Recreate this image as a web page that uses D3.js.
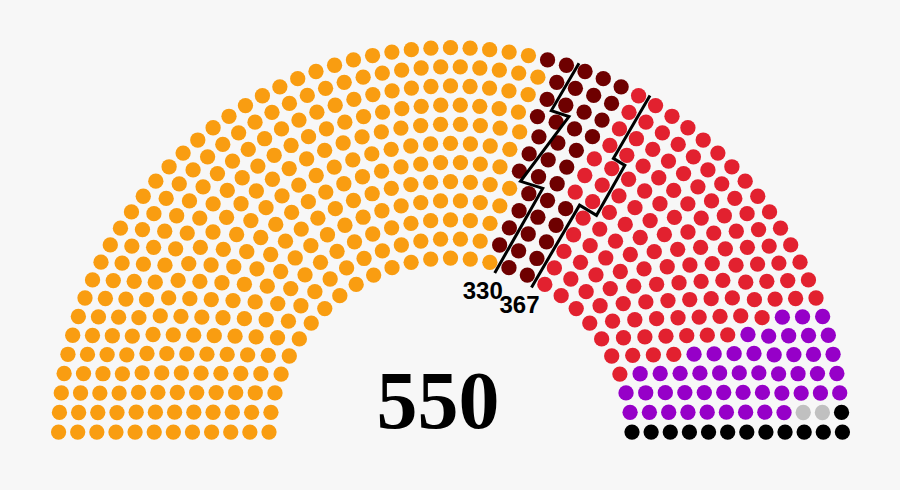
<!DOCTYPE html>
<html>
<head>
<meta charset="utf-8">
<script src="https://cdn.jsdelivr.net/npm/d3@7"></script>
<style>
  html, body { margin: 0; padding: 0; background: #f7f7f7; }
  svg { display: block; }
</style>
</head>
<body>
<svg id="chart" width="900" height="490"></svg>
<script>
// ---- data ----
const parties = ["AKP", "MHP", "CHP", "HDP", "Vacant", "Independent"];
const seats   = [317, 40, 130, 48, 2, 13];
const colors  = ["#F99D11", "#6E0000", "#E2212F", "#9600C8", "#C0C0C0", "#000000"];
const thresholds = [330, 367];
const totalLabel = "550";

// ---- layout (parliament diagram arrangement) ----
const Totals = [3, 15, 33, 61, 95, 138, 189, 247, 313, 388, 469, 559, 657, 762, 876, 997, 1126, 1263, 1408, 1560];
const N = d3.sum(seats);
const rows = Totals.findIndex(t => t >= N) + 1;
const dotR = 0.4 / rows;

const spots = [];
function addRow(i, J) {
  const R = (3 * rows + 4 * i - 2) / (4 * rows);
  if (J === 1) { spots.push({a: Math.PI / 2, R, row: i}); return; }
  for (let j = 0; j < J; j++) {
    const a = j * (Math.PI - 2 * Math.sin(dotR / R)) / (J - 1) + Math.sin(dotR / R);
    spots.push({a, R, row: i});
  }
}
for (let i = 1; i < rows; i++) {
  const J = Math.floor(N / Totals[rows - 1] * Math.PI / (2 * Math.asin(2 / (3 * rows + 4 * i - 2))));
  addRow(i, J);
}
addRow(rows, N - spots.length);
spots.forEach(s => { s.x0 = s.R * Math.cos(s.a); s.y0 = s.R * Math.sin(s.a); });
spots.sort((p, q) => (q.a - p.a) || (q.x0 - p.x0) || (q.y0 - p.y0));

const partyIndex = [];
seats.forEach((n, k) => { for (let j = 0; j < n; j++) partyIndex.push(k); });
spots.forEach((s, idx) => { s.idx = idx; s.party = partyIndex[idx]; });

// ---- scales ----
const Rmax = (3 * rows + 4 * rows - 2) / (4 * rows);
const cx = 450.5, cy = 439.7, outerPx = 392;
const rScale = d3.scaleLinear().domain([0, Rmax]).range([0, outerPx]);
const px = (R, a) => cx + rScale(R) * Math.cos(a);
const py = (R, a) => cy - rScale(R) * Math.sin(a);

const svg = d3.select("#chart");
svg.append("rect").attr("width", 900).attr("height", 490).attr("fill", "#f7f7f7");

svg.append("g").selectAll("circle")
  .data(spots)
  .join("circle")
  .attr("cx", d => px(d.R, d.a))
  .attr("cy", d => py(d.R, d.a))
  .attr("r", rScale(dotR))
  .attr("fill", d => colors[d.party]);

// ---- threshold lines: straight runs through the gaps between seats ----
const rowIds = d3.range(1, rows + 1);
const extIn = 0.04, extOut = 0.025, tol = -0.006;
const P = (R, a) => [R * Math.cos(a), R * Math.sin(a)];
function crossAngle(A, B, R) {
  const d = [B[0] - A[0], B[1] - A[1]];
  const a = d[0] * d[0] + d[1] * d[1];
  const b = 2 * (A[0] * d[0] + A[1] * d[1]);
  const c = A[0] * A[0] + A[1] * A[1] - R * R;
  const disc = b * b - 4 * a * c;
  if (disc < 0) return null;
  const t = (-b + Math.sqrt(disc)) / (2 * a);
  if (t < 0 || t > 1) return null;
  return Math.atan2(A[1] + t * d[1], A[0] + t * d[0]);
}
const sample = (lo, hi, n) => d3.range(n).map(i => lo + (hi - lo) * i / (n - 1));

function buildLine(t) {
  const win = rowIds.map(r => {
    const rs = spots.filter(s => s.row === r);
    const before = rs.filter(s => s.idx < t), after = rs.filter(s => s.idx >= t);
    return {
      R: rs[0].R,
      hi: before.length ? d3.min(before, s => s.a) : Math.PI,
      lo: after.length ? d3.max(after, s => s.a) : 0
    };
  });
  function clearance(A, B, check) {
    let m = Infinity;
    for (const w of check) {
      const a = crossAngle(A, B, w.R);
      if (a === null) return -Infinity;
      m = Math.min(m, Math.min(a - w.lo, w.hi - a) * w.R - dotR);
    }
    return m;
  }
  const gapR = k => k < rows ? (win[k - 1].R + win[k].R) / 2 : win[rows - 1].R + extOut;
  const gapRange = k => k < rows
    ? [Math.min(win[k - 1].lo, win[k].lo), Math.max(win[k - 1].hi, win[k].hi)]
    : [win[rows - 1].lo, win[rows - 1].hi];

  const pts = [];
  let startR = win[0].R - extIn;
  let starts = sample(win[0].lo, win[0].hi, 41);
  let prevEnd = null;
  let fromRow = 1;
  while (fromRow <= rows) {
    let best = null;
    for (let j = rows; j >= fromRow && !best; j--) {
      const eR = gapR(j), er = gapRange(j);
      const ends = sample(er[0], er[1], 41);
      const check = win.slice(fromRow - 1, j);
      for (const s of starts) {
        const A = P(startR, s);
        for (const e of ends) {
          let c = clearance(A, P(eR, e), check);
          if (prevEnd !== null && s === prevEnd) c += 0.004;
          if (c >= tol && (!best || c > best.c)) best = {s, e, c, j, eR, er};
        }
      }
    }
    if (!best) {
      const w = win[fromRow - 1];
      const a = (w.lo + w.hi) / 2;
      best = {s: a, e: a, j: fromRow, eR: gapR(fromRow), er: gapRange(fromRow)};
    }
    pts.push({R: startR, a: best.s}, {R: best.eR, a: best.e});
    fromRow = best.j + 1;
    startR = best.eR;
    prevEnd = best.e;
    starts = [best.e, ...sample(best.er[0], best.er[1], 41)];
  }
  return pts.filter((p, i) => i === 0 || p.R !== pts[i - 1].R || p.a !== pts[i - 1].a);
}

const line = d3.line().x(d => px(d.R, d.a)).y(d => py(d.R, d.a));
thresholds.forEach(t => {
  const pts = buildLine(t);
  svg.append("path")
    .attr("d", line(pts))
    .attr("fill", "none")
    .attr("stroke", "#000")
    .attr("stroke-width", 3)
    .attr("stroke-linejoin", "miter");
  const start = pts[0];
  svg.append("text")
    .attr("x", px(start.R, start.a) - 12)
    .attr("y", py(start.R, start.a) + 26)
    .attr("text-anchor", "middle")
    .attr("font-family", "'Liberation Sans', Arial, sans-serif")
    .attr("font-weight", "bold")
    .attr("font-size", 24)
    .attr("fill", "#000")
    .text(t);
});

// ---- total ----
svg.append("text")
  .attr("x", 438)
  .attr("y", 428)
  .attr("text-anchor", "middle")
  .attr("font-family", "'Liberation Serif', 'Times New Roman', serif")
  .attr("font-weight", "bold")
  .attr("font-size", 82)
  .attr("fill", "#000")
  .text(totalLabel);
</script>
</body>
</html>
